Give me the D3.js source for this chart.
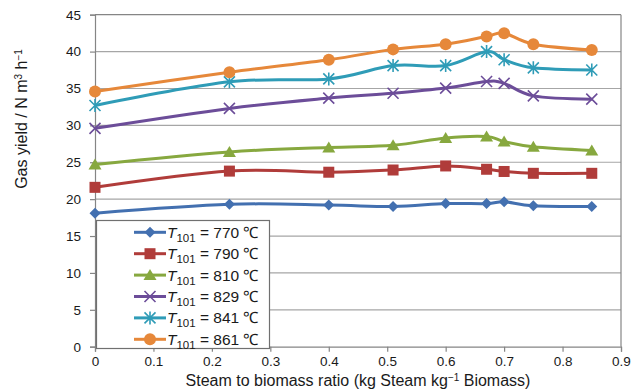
<!DOCTYPE html>
<html>
<head>
<meta charset="utf-8">
<script src="https://cdn.jsdelivr.net/npm/d3@7"></script>
<style>
html,body{margin:0;padding:0;background:#fff;}
svg{display:block;font-family:"Liberation Sans",Arial,sans-serif;}
</style>
</head>
<body>
<svg id="chart" width="643" height="392"></svg>
<script>
// ---- data ----
const ratios = [0, 0.23, 0.4, 0.51, 0.6, 0.67, 0.7, 0.75, 0.85];
const t770 = [18.1, 19.3, 19.2, 19.0, 19.4, 19.4, 19.65, 19.1, 19.0];
const t790 = [21.6, 23.8, 23.65, 23.95, 24.5, 24.05, 23.75, 23.5, 23.5];
const t810 = [24.7, 26.4, 27.0, 27.3, 28.3, 28.5, 27.8, 27.1, 26.6];
const t829 = [29.6, 32.3, 33.7, 34.35, 35.05, 35.95, 35.7, 34.0, 33.55];
const t841 = [32.7, 35.9, 36.3, 38.1, 38.1, 40.0, 38.9, 37.8, 37.5];
const t861 = [34.6, 37.2, 38.9, 40.3, 41.0, 42.05, 42.5, 41.0, 40.2];
const temps = ["770", "790", "810", "829", "841", "861"];
const xTicks = [0, 0.1, 0.2, 0.3, 0.4, 0.5, 0.6, 0.7, 0.8, 0.9];
const yTicks = [0, 5, 10, 15, 20, 25, 30, 35, 40, 45];

const seriesValues = [t770, t790, t810, t829, t841, t861];
const colors = ["#4370b0", "#b03c3a", "#87a83f", "#6c4d99", "#2f9cb7", "#e6883a"];
const markers = ["diamond", "square", "triangle", "x", "asterisk", "circle"];

const svg = d3.select("#chart");
const x = d3.scaleLinear().domain([0, 0.9]).range([95, 621]);
const y = d3.scaleLinear().domain([0, 45]).range([346.7, 14.7]);

// gridlines
svg.append("g").selectAll("line").data(yTicks.filter(d => d > 0)).join("line")
  .attr("x1", x(0)).attr("x2", x(0.9))
  .attr("y1", d => y(d)).attr("y2", d => y(d))
  .attr("stroke", d => d === 45 ? "#858585" : "#a6a6a6").attr("stroke-width", 1.2);
// right border
svg.append("line").attr("x1", x(0.9)).attr("x2", x(0.9)).attr("y1", y(45)).attr("y2", y(0))
  .attr("stroke", "#858585").attr("stroke-width", 1.2);

// axes
const yAxis = svg.append("g").attr("transform", `translate(${x(0)},0)`)
  .call(d3.axisLeft(y).tickValues(yTicks).tickSize(5).tickPadding(9).tickFormat(d3.format("d")));
const xAxis = svg.append("g").attr("transform", `translate(0,${y(0)})`)
  .call(d3.axisBottom(x).tickValues(xTicks).tickSize(5).tickPadding(5)
    .tickFormat(d => d === 0 ? "0" : d3.format(".1f")(d)));
[yAxis, xAxis].forEach(a => {
  a.select(".domain").attr("stroke", "#858585").attr("stroke-width", 1.2);
  a.selectAll(".tick line").attr("stroke", "#858585").attr("stroke-width", 1.2);
  a.selectAll(".tick text").attr("fill", "#1a1a1a").attr("font-size", 13.5)
    .attr("font-family", "'Liberation Sans', Arial, sans-serif");
});

// marker drawing
function drawMarker(g, type, color, cx, cy) {
  if (type === "diamond") {
    g.append("path").attr("d", `M${cx},${cy-5.5}L${cx+5.5},${cy}L${cx},${cy+5.5}L${cx-5.5},${cy}Z`).attr("fill", color);
  } else if (type === "square") {
    g.append("rect").attr("x", cx-5.5).attr("y", cy-5.5).attr("width", 11).attr("height", 11).attr("fill", color);
  } else if (type === "triangle") {
    g.append("path").attr("d", `M${cx},${cy-6}L${cx+6.5},${cy+5}L${cx-6.5},${cy+5}Z`).attr("fill", color);
  } else if (type === "x") {
    const r = 5.5;
    g.append("path").attr("d", `M${cx-r},${cy-r}L${cx+r},${cy+r}M${cx-r},${cy+r}L${cx+r},${cy-r}`)
      .attr("stroke", color).attr("stroke-width", 1.6).attr("fill", "none");
  } else if (type === "asterisk") {
    const r = 5.5;
    g.append("path").attr("d", `M${cx-r},${cy-r}L${cx+r},${cy+r}M${cx-r},${cy+r}L${cx+r},${cy-r}M${cx},${cy-r-1}L${cx},${cy+r+1}`)
      .attr("stroke", color).attr("stroke-width", 1.6).attr("fill", "none");
  } else if (type === "circle") {
    g.append("circle").attr("cx", cx).attr("cy", cy).attr("r", 6).attr("fill", color);
  }
}

// series
const line = d3.line().x((d, i) => x(ratios[i])).y(d => y(d)).curve(d3.curveCardinal.tension(0));
seriesValues.forEach((vals, si) => {
  const g = svg.append("g");
  g.append("path").attr("d", line(vals)).attr("fill", "none")
    .attr("stroke", colors[si]).attr("stroke-width", 3).attr("stroke-linejoin", "round");
  vals.forEach((v, i) => drawMarker(g, markers[si], colors[si], x(ratios[i]), y(v)));
});

// legend
const lg = svg.append("g");
lg.append("rect").attr("x", 96.5).attr("y", 220.5).attr("width", 173).attr("height", 128)
  .attr("fill", "#fff").attr("stroke", "#707070").attr("stroke-width", 1.2);
temps.forEach((t, i) => {
  const cy = 232.3 + i * 21.4;
  lg.append("line").attr("x1", 134).attr("x2", 166).attr("y1", cy).attr("y2", cy)
    .attr("stroke", colors[i]).attr("stroke-width", 3);
  drawMarker(lg, markers[i], colors[i], 150, cy);
  const tx = lg.append("text").attr("x", 167).attr("y", cy + 5.5).attr("font-size", 15.5).attr("fill", "#1a1a1a");
  tx.append("tspan").attr("font-style", "italic").text("T");
  tx.append("tspan").attr("font-size", 11.5).attr("dy", 4).text("101");
  tx.append("tspan").attr("dy", -4).text(` = ${t} \u2103`);
});

// axis titles
const xt = svg.append("text").attr("x", 358).attr("y", 386).attr("text-anchor", "middle")
  .attr("font-size", 16).attr("fill", "#1a1a1a");
xt.append("tspan").text("Steam to biomass ratio (kg Steam kg");
xt.append("tspan").attr("font-size", 10).attr("dy", -5).text("\u22121");
xt.append("tspan").attr("dy", 5).text(" Biomass)");

const yt = svg.append("text").attr("transform", "translate(27,119) rotate(-90)").attr("text-anchor", "middle")
  .attr("font-size", 16).attr("fill", "#1a1a1a");
yt.append("tspan").text("Gas yield / N m");
yt.append("tspan").attr("font-size", 10).attr("dy", -5).text("3");
yt.append("tspan").attr("dy", 5).text(" h");
yt.append("tspan").attr("font-size", 10).attr("dy", -5).text("\u22121");
</script>
</body>
</html>
